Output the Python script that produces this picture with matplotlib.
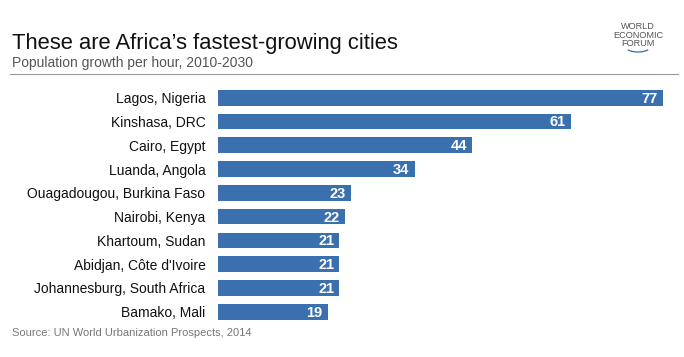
import matplotlib.pyplot as plt
from matplotlib.patches import Arc

# Data
cities = ["Lagos, Nigeria", "Kinshasa, DRC", "Cairo, Egypt", "Luanda, Angola",
          "Ouagadougou, Burkina Faso", "Nairobi, Kenya", "Khartoum, Sudan",
          "Abidjan, Côte d'Ivoire", "Johannesburg, South Africa", "Bamako, Mali"]
growth = [77, 61, 44, 34, 23, 22, 21, 21, 21, 19]

plt.rcParams['font.family'] = ['Liberation Sans', 'DejaVu Sans']

fig = plt.figure(figsize=(6.84, 3.57), dpi=100)
ax = fig.add_axes([0.3187, 0.0936, 0.676, 0.6658])

y = list(range(len(cities)))
ax.barh(y, growth, height=0.66, color='#3b70ae')
for yi, v in zip(y, growth):
    ax.text(v - 0.9, yi + 0.04, str(v), ha='right', va='center', color='white',
            fontsize=10.5, fontweight='bold')

ax.set_xlim(0, 80)
ax.set_ylim(len(cities) - 0.5, -0.5)
ax.set_yticks(y)
ax.set_yticklabels(cities, fontsize=10, color='#111111')
ax.tick_params(axis='y', length=0, pad=9)
ax.set_xticks([])
for s in ax.spines.values():
    s.set_visible(False)

# Header
fig.text(12 / 684, 1 - 43 / 357, "These are Africa’s fastest-growing cities",
         fontsize=15.8, color='#111111', va='center', ha='left')
fig.text(12 / 684, 1 - 63.5 / 357, "Population growth per hour, 2010-2030",
         fontsize=10, color='#555555', va='center', ha='left')
fig.add_artist(plt.Line2D([10 / 684, 678 / 684], [1 - 73.5 / 357, 1 - 73.5 / 357],
                          color='#999999', lw=0.8))

# Logo
fig.text(638 / 684, 1 - 35 / 357, "WORLD\nECONOMIC\nFORUM", fontsize=6.6,
         color='#555555', ha='center', va='center', linespacing=0.95)
fig.add_artist(Arc((638 / 684, 1 - 46 / 357), 26 / 684, 12 / 357, theta1=215,
                   theta2=325, color='#2f6db3', lw=0.9, transform=fig.transFigure))

# Source
fig.text(12 / 684, 1 - 333 / 357, "Source: UN World Urbanization Prospects, 2014",
         fontsize=8, color='#777777', va='center', ha='left')

fig.savefig("out.png", dpi=100)
